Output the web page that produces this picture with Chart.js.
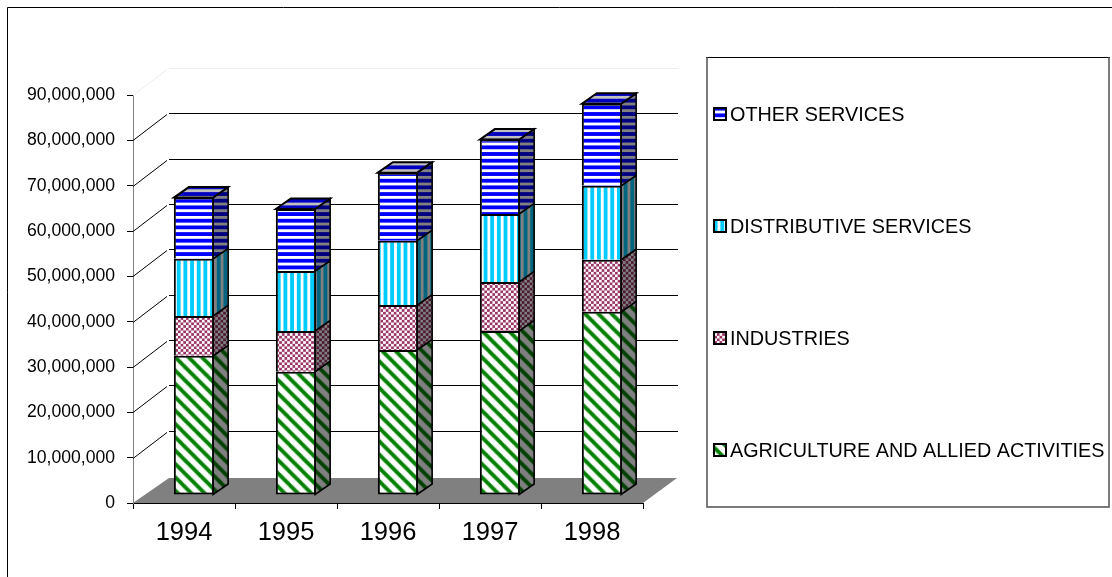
<!DOCTYPE html>
<html><head><meta charset="utf-8">
<style>html,body{margin:0;padding:0;background:#fff}canvas{display:block}</style>
<script src="https://cdn.jsdelivr.net/npm/chart.js@4"></script>
</head><body><canvas id="c" width="1112" height="577"></canvas>
<script>
const categories = ["1994","1995","1996","1997","1998"];
const agriculture = [30700000,27200000,32000000,36200000,40400000];
const industries  = [8800000,9000000,9900000,10800000,11500000];
const distributive= [12600000,13200000,14200000,15000000,16300000];
const other       = [13500000,13700000,15000000,16400000,18100000];

function tile(w,h,draw){const c=document.createElement('canvas');c.width=w;c.height=h;draw(c.getContext('2d'),w,h);return c;}
function shade(src,color){return tile(src.width,src.height,(g,w,h)=>{g.drawImage(src,0,0);g.globalCompositeOperation='multiply';g.fillStyle=color;g.fillRect(0,0,w,h);});}
const ctxMain=document.getElementById('c').getContext('2d');
const tiles={
 green:tile(12,12,(g,w,h)=>{g.fillStyle='#fff';g.fillRect(0,0,w,h);g.strokeStyle='#008000';g.lineWidth=3.4;
   for(let i=-12;i<=12;i+=12){g.beginPath();g.moveTo(i-2,-2);g.lineTo(i+14,14);g.stroke();}}),
 maroon:tile(6,6,(g,w,h)=>{g.fillStyle='#fff';g.fillRect(0,0,w,h);g.fillStyle='#993366';g.fillRect(0,0,3,3);g.fillRect(3,3,3,3);}),
 cyan:tile(7,7,(g,w,h)=>{g.fillStyle='#fff';g.fillRect(0,0,w,h);g.fillStyle='#00ccff';g.fillRect(0,0,4,7);}),
 blue:tile(7,7,(g,w,h)=>{g.fillStyle='#fff';g.fillRect(0,0,w,h);g.fillStyle='#0000ff';g.fillRect(0,0,7,4);})
};
const pat=(t,s)=>{const p=ctxMain.createPattern(t,'repeat');if(s)p.setTransform(new DOMMatrix().scale(s));return p;};
const series=[
 {label:"AGRICULTURE AND ALLIED ACTIVITIES",data:agriculture,t:tiles.green,s:13.33/12},
 {label:"INDUSTRIES",data:industries,t:tiles.maroon,s:5.33/6},
 {label:"DISTRIBUTIVE SERVICES",data:distributive,t:tiles.cyan,s:6.67/7},
 {label:"OTHER SERVICES",data:other,t:tiles.blue,s:6.67/7}
];
const OFF={x:10,y:-8}, BAR={x:15,y:-10.5}, BACK={x:36,y:-27}, FLOOR={x:36,y:-25};
const plugin={id:'three',
 beforeDatasetsDraw(chart){
  const g=chart.ctx,ya=chart.scales.y,{left,right,bottom}=chart.chartArea;
  g.save();
  g.fillStyle='#808080';g.beginPath();g.moveTo(left,bottom);g.lineTo(left+FLOOR.x,bottom+FLOOR.y);g.lineTo(right+FLOOR.x-2,bottom+FLOOR.y);g.lineTo(right,bottom);g.closePath();g.fill();
  ya.ticks.forEach(t=>{
    if(t.value===0)return;
    const y=Math.round(ya.getPixelForValue(t.value))+.5,top=t.value===90000000;
    g.strokeStyle=top?'#eeeeee':'#000';g.lineWidth=1;
    g.beginPath();g.moveTo(left,y);g.lineTo(left+BACK.x-2,y+BACK.y+1);g.moveTo(left+BACK.x,y+BACK.y);g.lineTo(right+BACK.x-1,y+BACK.y);g.stroke();
  });
  g.restore();
  g.save();g.translate(OFF.x,OFF.y);
 },
 afterDatasetsDraw(chart){
  const g=chart.ctx;
  chart.data.datasets.forEach((ds,di)=>{
    const dark=pat(shade(ds._t,'#808080'),ds._s), light=pat(shade(ds._t,'#c0c0c0'),ds._s);
    chart.getDatasetMeta(di).data.forEach(b=>{
      const p=b.getProps(['x','y','base','width'],true),L=p.x-p.width/2,R=p.x+p.width/2-1;
      g.strokeStyle='#000';g.lineWidth=1.6;g.lineJoin='miter';
      g.beginPath();g.moveTo(R,p.y);g.lineTo(R+BAR.x,p.y+BAR.y);g.lineTo(R+BAR.x,p.base+BAR.y);g.lineTo(R,p.base);g.closePath();
      g.fillStyle=dark;g.fill();g.stroke();
      if(di===chart.data.datasets.length-1){
        g.beginPath();g.moveTo(L,p.y);g.lineTo(L+BAR.x,p.y+BAR.y);g.lineTo(R+BAR.x,p.y+BAR.y);g.lineTo(R,p.y);g.closePath();
        g.fillStyle=light;g.fill();g.lineWidth=2;g.stroke();
      }
    });
  });
  g.restore();
 },
 afterDraw(chart){
  const g=chart.ctx;
  g.save();
  g.strokeStyle='#000';g.lineWidth=1;g.beginPath();g.moveTo(706,57.5);g.lineTo(1110,57.5);g.stroke();
  g.strokeStyle='#505050';g.lineWidth=1.5;g.beginPath();g.moveTo(707,57);g.lineTo(707,507);g.lineTo(1109,507);g.lineTo(1109,57);g.stroke();
  g.font='19.8px "Liberation Sans"';g.textBaseline='middle';g.textAlign='left';
  const ys=[451,339,227,115];
  chart.data.datasets.forEach((ds,i)=>{
    g.fillStyle=pat(ds._t,ds._s);g.fillRect(714,ys[i]-7,12,12);
    g.strokeStyle='#000';g.lineWidth=2;g.strokeRect(714,ys[i]-7,12,12);
    g.fillStyle='#000';g.fillText(ds.label,730,ys[i]+1);
  });
  g.strokeStyle='#000';g.lineWidth=1;g.beginPath();g.moveTo(7.5,577);g.lineTo(7.5,7.5);g.lineTo(1112,7.5);g.stroke();
  g.restore();
 }
};
new Chart(document.getElementById('c'),{
 type:'bar',
 data:{labels:categories,datasets:series.map((s,i)=>({label:s.label,data:s.data,_t:s.t,_s:s.s,backgroundColor:pat(s.t,s.s),borderColor:'#000',borderWidth:2,borderSkipped:i===0?false:'bottom',categoryPercentage:1,barPercentage:0.395}))},
 options:{responsive:false,animation:false,
  layout:{padding:{top:95,right:469,left:0,bottom:0}},
  plugins:{legend:{display:false},tooltip:{enabled:false},title:{display:false}},
  scales:{
   x:{stacked:true,offset:true,
      afterFit(a){a.height=74;},
      grid:{display:true,drawOnChartArea:false,drawTicks:true,tickLength:6,color:'#000',offset:true},
      border:{display:true,color:'#000',width:1},
      ticks:{color:'#000',font:{family:'"Liberation Sans"',size:25.5},padding:9,maxRotation:0}},
   y:{stacked:true,min:0,max:90000000,
      afterFit(a){a.width=133;},
      grid:{display:true,drawOnChartArea:false,drawTicks:true,tickLength:6,color:'#000'},
      border:{display:true,color:'#808080',width:1},
      ticks:{stepSize:10000000,color:'#000',font:{family:'"Liberation Sans"',size:17.6},padding:12,
        callback:v=>v.toLocaleString('en-US')}}
  }},
 plugins:[plugin]
});
</script></body></html>
